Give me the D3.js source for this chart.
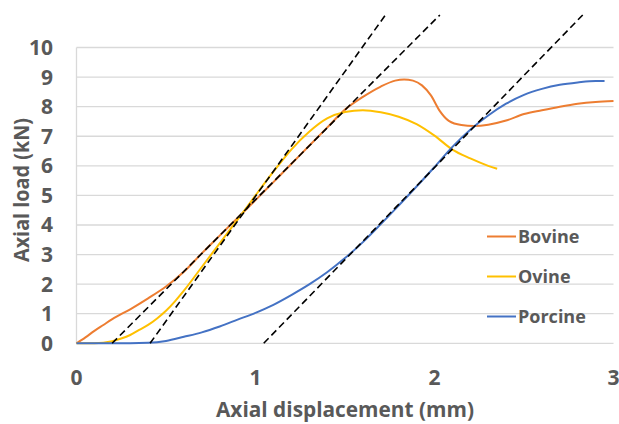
<!DOCTYPE html>
<html>
<head>
<meta charset="utf-8">
<script src="https://cdn.jsdelivr.net/npm/d3@7"></script>
<style>
  body { margin: 0; background: #fff; }
  text { font-family: "Open Sans", sans-serif; font-weight: bold; fill: #595959; }
</style>
</head>
<body>
<div id="chart"></div>
<script>
let width = 619;
let height = 424;

// series (mm, kN)
let bovineX = [0, 0.05, 0.1, 0.15, 0.2, 0.3, 0.4, 0.5, 0.6, 0.7, 0.8, 0.9, 1.0, 1.1, 1.2, 1.3, 1.4, 1.5, 1.6, 1.7, 1.78, 1.83, 1.88, 1.93, 1.98, 2.03, 2.08, 2.15, 2.22, 2.3, 2.4, 2.5, 2.6, 2.7, 2.8, 2.9, 3.0];
let bovineY = [0, 0.2, 0.42, 0.62, 0.82, 1.15, 1.52, 1.92, 2.42, 3.04, 3.64, 4.24, 4.84, 5.45, 6.06, 6.68, 7.29, 7.9, 8.33, 8.68, 8.88, 8.92, 8.88, 8.72, 8.38, 7.85, 7.52, 7.38, 7.35, 7.39, 7.53, 7.75, 7.88, 8.0, 8.1, 8.16, 8.19];

let ovineX = [0, 0.1, 0.2, 0.25, 0.3, 0.35, 0.4, 0.45, 0.5, 0.55, 0.6, 0.7, 0.8, 0.9, 1.0, 1.1, 1.2, 1.3, 1.4, 1.5, 1.6, 1.7, 1.8, 1.9, 2.0, 2.1, 2.2, 2.3, 2.35];
let ovineY = [0, 0, 0.07, 0.16, 0.28, 0.45, 0.62, 0.84, 1.1, 1.42, 1.78, 2.58, 3.38, 4.18, 5.0, 5.8, 6.55, 7.15, 7.6, 7.82, 7.88, 7.81, 7.66, 7.41, 7.02, 6.55, 6.25, 6.0, 5.9];

let porcineX = [0, 0.2, 0.4, 0.5, 0.6, 0.7, 0.8, 0.9, 1.0, 1.1, 1.2, 1.3, 1.4, 1.5, 1.6, 1.7, 1.8, 1.9, 2.0, 2.1, 2.2, 2.3, 2.4, 2.5, 2.6, 2.7, 2.8, 2.9, 2.95];
let porcineY = [0, 0, 0.02, 0.08, 0.22, 0.37, 0.57, 0.8, 1.03, 1.3, 1.63, 1.99, 2.4, 2.88, 3.42, 4.03, 4.66, 5.3, 5.96, 6.64, 7.22, 7.7, 8.1, 8.4, 8.6, 8.74, 8.82, 8.87, 8.87];

// dashed tangent lines: start on the x axis, end above the plot
let tangentStartX = [0.411, 0.199, 1.046];
let tangentEndX = [1.726, 2.03, 2.828];
let tangentEndY = [11.1, 11.1, 11.1];

let seriesNames = ["Bovine", "Ovine", "Porcine"];
let seriesColors = ["#ED7D31", "#FFC000", "#4472C4"];
let xTicks = [0, 1, 2, 3];
let yTicks = [0, 1, 2, 3, 4, 5, 6, 7, 8, 9, 10];

let svg = d3.select("#chart").append("svg")
            .attr("width", width)
            .attr("height", height);

let x = d3.scaleLinear().domain([0, 3]).range([76.5, 613.5]);
let y = d3.scaleLinear().domain([0, 10]).range([343.3, 47.5]);

//gridlines
svg.append("g").selectAll("line")
   .data(yTicks)
   .join("line")
   .attr("x1", x(0)).attr("x2", x(3))
   .attr("y1", d => y(d)).attr("y2", d => y(d))
   .attr("stroke", "#D9D9D9")
   .attr("stroke-width", 1.3);

svg.append("line")
   .attr("x1", x(0)).attr("x2", x(0))
   .attr("y1", y(0)).attr("y2", y(10))
   .attr("stroke", "#D9D9D9")
   .attr("stroke-width", 1.3);

//tick labels
svg.append("g").selectAll("text")
   .data(yTicks)
   .join("text")
   .attr("x", 53)
   .attr("y", d => y(d) + 7.5)
   .attr("text-anchor", "end")
   .attr("font-size", 21)
   .text(d => d);

svg.append("g").selectAll("text")
   .data(xTicks)
   .join("text")
   .attr("x", d => x(d))
   .attr("y", 385)
   .attr("text-anchor", "middle")
   .attr("font-size", 21)
   .text(d => d);

//axis titles
svg.append("text")
   .attr("x", 345)
   .attr("y", 417)
   .attr("text-anchor", "middle")
   .attr("font-size", 21)
   .attr("textLength", 258)
   .attr("lengthAdjust", "spacingAndGlyphs")
   .text("Axial displacement (mm)");

svg.append("text")
   .attr("transform", "translate(29,190) rotate(-90)")
   .attr("text-anchor", "middle")
   .attr("font-size", 21)
   .attr("textLength", 144)
   .attr("lengthAdjust", "spacingAndGlyphs")
   .text("Axial load (kN)");

//curves
let line = d3.line()
             .x(d => x(d[0]))
             .y(d => y(d[1]))
             .curve(d3.curveMonotoneX);

let allX = [bovineX, ovineX, porcineX];
let allY = [bovineY, ovineY, porcineY];

for (let i = 0; i < 3; i++) {
    let pts = allX[i].map((v, j) => [v, allY[i][j]]);
    svg.append("path")
       .attr("d", line(pts))
       .attr("fill", "none")
       .attr("stroke", seriesColors[i])
       .attr("stroke-width", 2);
}

//tangents
for (let i = 0; i < 3; i++) {
    svg.append("line")
       .attr("x1", x(tangentStartX[i])).attr("y1", y(0))
       .attr("x2", x(tangentEndX[i])).attr("y2", y(tangentEndY[i]))
       .attr("stroke", "#000")
       .attr("stroke-width", 1.6)
       .attr("stroke-dasharray", "7,4");
}

//legend
let legendY = [236.5, 276.5, 316.5];
let legend = svg.append("g").selectAll("g")
                .data(seriesNames)
                .join("g")
                .attr("transform", (d, i) => "translate(487," + legendY[i] + ")");

legend.append("line")
      .attr("x1", 0).attr("x2", 29)
      .attr("stroke", (d, i) => seriesColors[i])
      .attr("stroke-width", 2);

legend.append("text")
      .attr("x", 31)
      .attr("y", 6.5)
      .attr("font-size", 18)
      .text(d => d);
</script>
</body>
</html>
